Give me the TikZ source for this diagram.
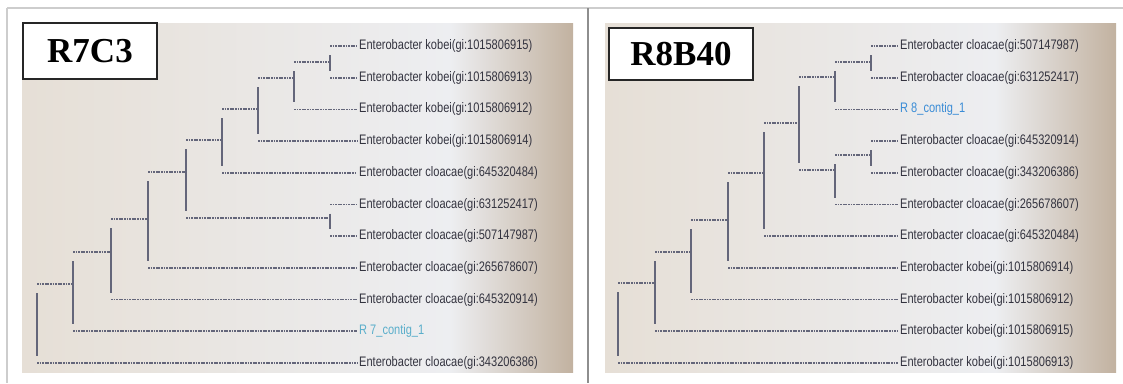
\documentclass[tikz,border=0pt]{standalone}
\usepackage{fontspec}
\setmainfont{Liberation Serif}
\newfontfamily\leaffont[FakeStretch=0.8]{Liberation Sans}
\usetikzlibrary{calc}
\definecolor{linegray}{HTML}{64667A}
\definecolor{txtgray}{HTML}{33333F}
\definecolor{contigL}{HTML}{5AAECB}
\definecolor{contigR}{HTML}{3A8CD6}
\definecolor{photoL}{HTML}{E6DFD6}
\definecolor{photoM}{HTML}{EDEEF1}
\definecolor{photoR}{HTML}{C2B2A0}
\definecolor{frameline}{HTML}{CDCDCD}
\definecolor{divline}{HTML}{8E8E8E}
\newcommand\vjoin[3]{\draw[vline] ($(#2 -| #1)+(0,9)$) -- ($(#3 -| #1)+(0,-7)$);}
\newcommand\hjoin[2]{\draw[hline] (#1 -| #2) -- (#1);}
\newcommand\ljoin[2]{\draw[hline] (#1.west -| #2) -- ($(#1.west)+(-2,0)$);}
\begin{document}
\begin{tikzpicture}[x=1pt,y=-1pt,
  hline/.style={draw=linegray, line width=1.7pt, dash pattern=on 1.8pt off 0.8pt},
  vline/.style={draw=linegray, line width=1.6pt},
  leaf/.style={anchor=west, inner sep=0pt, font=\leaffont\fontsize{13.8}{14}\selectfont, text=txtgray},
  tagbox/.style={draw=black!85, line width=1.3pt, fill=white, inner sep=0pt,
    font=\bfseries\fontsize{35}{36}\selectfont}]
\useasboundingbox[fill=white] (0,0) rectangle (1123,383);
% frames
\draw[frameline, line width=1.2pt] (7,8) -- (1123,8);
\draw[frameline, line width=1.2pt] (7,8) -- (7,383);
\draw[divline, line width=1.8pt] (588,8) -- (588,383);
% photos
\fill[left color=photoL, right color=photoM] (22,23) rectangle (450,372);
\fill[left color=photoM, right color=photoR] (450,23) rectangle (573,372);
\fill[left color=photoL, right color=photoM] (605,23) rectangle (995,372);
\fill[left color=photoM, right color=photoR] (995,23) rectangle (1116,372);
% tags
\node[tagbox, minimum width=134pt, minimum height=56pt] (tagL) at (90,51) {R7C3};
\node[tagbox, minimum width=144pt, minimum height=52pt] (tagR) at (681,54) {R8B40};

% ---------- left tree ----------
\node[leaf] (L1) at (359,46) {Enterobacter kobei(gi:1015806915)};
\node[leaf] (L2) at (359,77.7) {Enterobacter kobei(gi:1015806913)};
\node[leaf] (L3) at (359,109.4) {Enterobacter kobei(gi:1015806912)};
\node[leaf] (L4) at (359,141) {Enterobacter kobei(gi:1015806914)};
\node[leaf] (L5) at (359,172.8) {Enterobacter cloacae(gi:645320484)};
\node[leaf] (L6) at (359,204.5) {Enterobacter cloacae(gi:631252417)};
\node[leaf] (L7) at (359,236.2) {Enterobacter cloacae(gi:507147987)};
\node[leaf] (L8) at (359,268) {Enterobacter cloacae(gi:265678607)};
\node[leaf] (L9) at (359,299.6) {Enterobacter cloacae(gi:645320914)};
\node[leaf, text=contigL] (L10) at (359,331.3) {R 7\_contig\_1};
\node[leaf] (L11) at (359,363) {Enterobacter cloacae(gi:343206386)};
\coordinate (a1) at (330,62);
\coordinate (a2) at (294,78);
\coordinate (a3) at (258,109);
\coordinate (a4) at (222,140);
\coordinate (a5) at (330,218);
\coordinate (a6) at (186,172);
\coordinate (a7) at (148,219);
\coordinate (a8) at (111,252);
\coordinate (a9) at (73,284);
\coordinate (a10) at (37,324);
\vjoin{a1}{L1.west}{L2.west}
\vjoin{a2}{a1}{L3.west}
\vjoin{a3}{a2}{L4.west}
\vjoin{a4}{a3}{L5.west}
\vjoin{a5}{L6.west}{L7.west}
\vjoin{a6}{a4}{a5}
\vjoin{a7}{a6}{L8.west}
\vjoin{a8}{a7}{L9.west}
\vjoin{a9}{a8}{L10.west}
\vjoin{a10}{a9}{L11.west}
\hjoin{a1}{a2}
\hjoin{a2}{a3}
\hjoin{a3}{a4}
\hjoin{a4}{a6}
\hjoin{a5}{a6}
\hjoin{a6}{a7}
\hjoin{a7}{a8}
\hjoin{a8}{a9}
\hjoin{a9}{a10}
\ljoin{L1}{a1}
\ljoin{L2}{a1}
\ljoin{L3}{a2}
\ljoin{L4}{a3}
\ljoin{L5}{a4}
\ljoin{L6}{a5}
\ljoin{L7}{a5}
\ljoin{L8}{a7}
\ljoin{L9}{a8}
\ljoin{L10}{a9}
\ljoin{L11}{a10}

% ---------- right tree ----------
\node[leaf] (R1) at (900,46) {Enterobacter cloacae(gi:507147987)};
\node[leaf] (R2) at (900,77.7) {Enterobacter cloacae(gi:631252417)};
\node[leaf, text=contigR] (R3) at (900,109.4) {R 8\_contig\_1};
\node[leaf] (R4) at (900,141) {Enterobacter cloacae(gi:645320914)};
\node[leaf] (R5) at (900,172.8) {Enterobacter cloacae(gi:343206386)};
\node[leaf] (R6) at (900,204.5) {Enterobacter cloacae(gi:265678607)};
\node[leaf] (R7) at (900,236.2) {Enterobacter cloacae(gi:645320484)};
\node[leaf] (R8) at (900,268) {Enterobacter kobei(gi:1015806914)};
\node[leaf] (R9) at (900,299.6) {Enterobacter kobei(gi:1015806912)};
\node[leaf] (R10) at (900,331.3) {Enterobacter kobei(gi:1015806915)};
\node[leaf] (R11) at (900,363) {Enterobacter kobei(gi:1015806913)};
\coordinate (b1) at (871,62);
\coordinate (b2) at (835,77);
\coordinate (b3) at (871,155);
\coordinate (b4) at (835,170);
\coordinate (b5) at (799,123);
\coordinate (b6) at (764,173);
\coordinate (b7) at (728,220);
\coordinate (b8) at (691,252);
\coordinate (b9) at (655,283);
\coordinate (b10) at (618,320);
\vjoin{b1}{R1.west}{R2.west}
\vjoin{b2}{b1}{R3.west}
\vjoin{b3}{R4.west}{R5.west}
\vjoin{b4}{b3}{R6.west}
\vjoin{b5}{b2}{b4}
\vjoin{b6}{b5}{R7.west}
\vjoin{b7}{b6}{R8.west}
\vjoin{b8}{b7}{R9.west}
\vjoin{b9}{b8}{R10.west}
\vjoin{b10}{b9}{R11.west}
\hjoin{b1}{b2}
\hjoin{b2}{b5}
\hjoin{b3}{b4}
\hjoin{b4}{b5}
\hjoin{b5}{b6}
\hjoin{b6}{b7}
\hjoin{b7}{b8}
\hjoin{b8}{b9}
\hjoin{b9}{b10}
\ljoin{R1}{b1}
\ljoin{R2}{b1}
\ljoin{R3}{b2}
\ljoin{R4}{b3}
\ljoin{R5}{b3}
\ljoin{R6}{b4}
\ljoin{R7}{b6}
\ljoin{R8}{b7}
\ljoin{R9}{b8}
\ljoin{R10}{b9}
\ljoin{R11}{b10}
\end{tikzpicture}
\end{document}
